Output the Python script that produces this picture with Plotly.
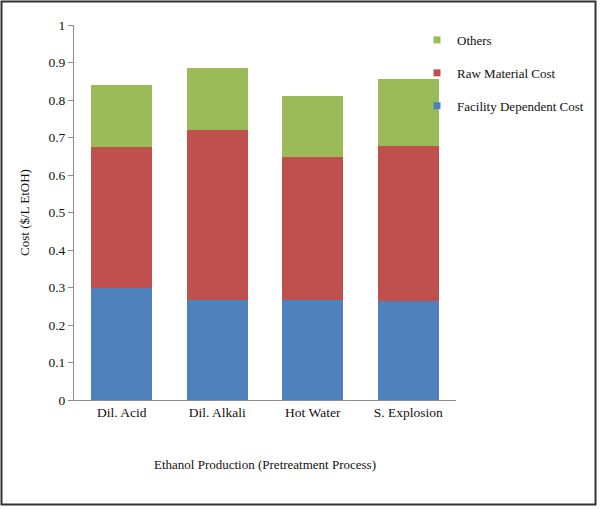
import plotly.graph_objects as go

categories = ["Dil. Acid", "Dil. Alkali", "Hot Water", "S. Explosion"]
facility_cost = [0.300, 0.266, 0.267, 0.263]
raw_material_cost = [0.376, 0.455, 0.382, 0.415]
others_cost = [0.163, 0.165, 0.162, 0.177]

y_ticks = [0, 0.1, 0.2, 0.3, 0.4, 0.5, 0.6, 0.7, 0.8, 0.9, 1]
y_tick_labels = ["0", "0.1", "0.2", "0.3", "0.4", "0.5", "0.6", "0.7", "0.8", "0.9", "1"]

series_names = ["Facility Dependent Cost", "Raw Material Cost", "Others"]
series_values = [facility_cost, raw_material_cost, others_cost]
series_colors = ["#4F81BD", "#C0504D", "#9BBB59"]
legend_ranks = [3, 2, 1]

FONT = "Liberation Serif"

fig = go.Figure()
for name, vals, col in zip(series_names, series_values, series_colors):
    fig.add_trace(go.Bar(name=name, x=categories, y=vals,
                         marker=dict(color=col, line=dict(width=0)), showlegend=False))
# legend entries with small square symbols
for name, col, rank in zip(series_names, series_colors, legend_ranks):
    fig.add_trace(go.Scatter(name=name, x=[None], y=[None], mode="markers",
                             marker=dict(symbol="square", size=7, color=col),
                             legendgroup=name, legendrank=rank, showlegend=True))

L, R, T, B = 74, 144, 25, 109
W, H = 600, 509
pw, ph = W - L - R, H - T - B

fig.update_layout(
    width=W, height=H,
    barmode="stack", bargap=0.36,
    margin=dict(l=L, r=R, t=T, b=B, autoexpand=False),
    paper_bgcolor="white", plot_bgcolor="white",
    font=dict(family=FONT, size=13.5, color="#111111"),
    showlegend=True,
    legend=dict(x=(417 - L) / pw, y=(H - B - 25) / ph, xanchor="left", yanchor="top",
                traceorder="grouped", tracegroupgap=13,
                font=dict(family=FONT, size=13, color="#111111"),
                bgcolor="rgba(0,0,0,0)", itemwidth=30),
    xaxis=dict(showline=True, linecolor="#8C8C8C", linewidth=1, ticks="",
               showgrid=False, tickfont=dict(size=13.5),
               title=dict(text="Ethanol Production (Pretreatment Process)",
                          font=dict(size=13), standoff=40)),
    yaxis=dict(range=[0, 1], tickvals=y_ticks, ticktext=y_tick_labels,
               showline=True, linecolor="#8C8C8C", linewidth=1,
               ticks="outside", ticklen=5, tickcolor="#8C8C8C",
               showgrid=False, zeroline=False, tickfont=dict(size=13.5),
               title=dict(text="Cost ($/L EtOH)", font=dict(size=13), standoff=15)),
)

# outer border box
fig.add_shape(type="rect", xref="paper", yref="paper",
              x0=(1.5 - L) / pw, x1=(595.5 - L) / pw,
              y0=(H - B - 504.5) / ph, y1=(H - B - 1.5) / ph,
              line=dict(color="#333333", width=2), fillcolor="rgba(0,0,0,0)", layer="above")

fig.write_html("out.html", config={"displayModeBar": False},
               post_script="document.body.style.margin='0';document.body.style.overflow='hidden';")
